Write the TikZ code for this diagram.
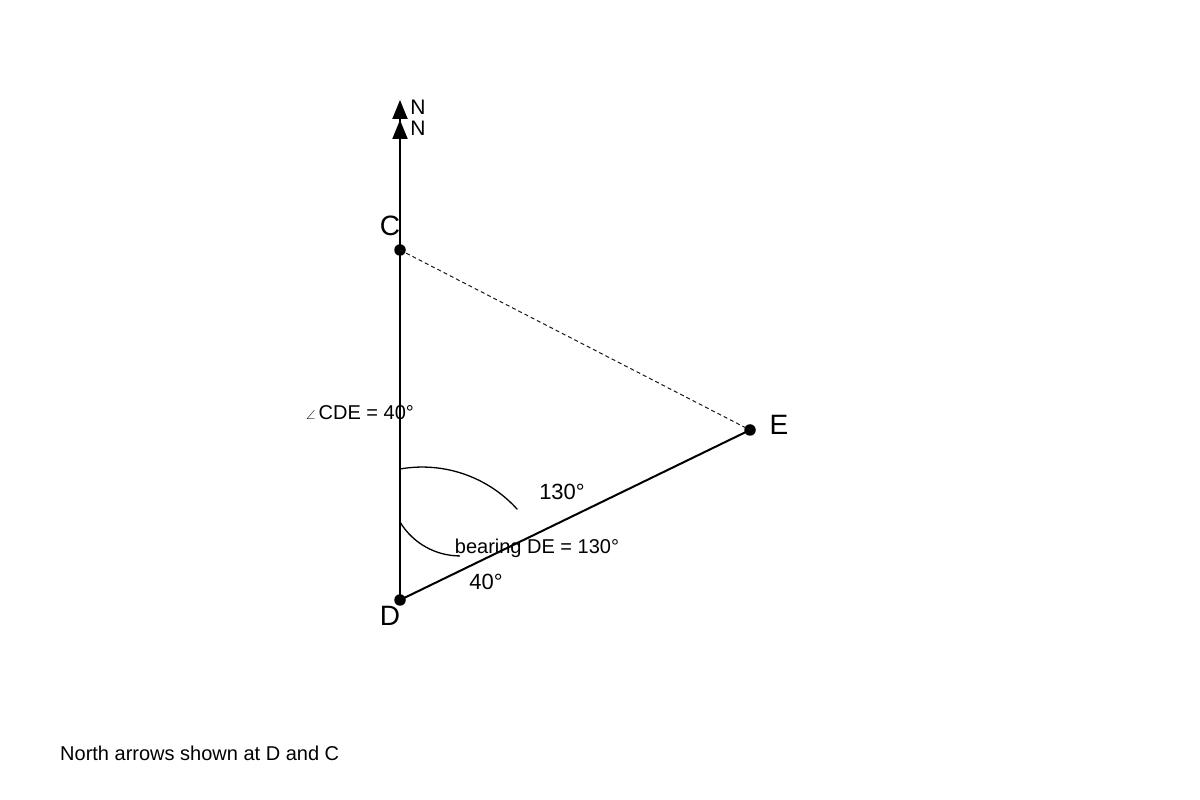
\documentclass[tikz,border=0pt]{standalone}
\usepackage{fontspec}
\setmainfont{Liberation Sans}
\usepackage{amsmath}
\usepackage{amssymb}
\usepackage{tikz}
\usetikzlibrary{arrows.meta}
\colorlet{markgray}{black!90}

\begin{document}
\begin{tikzpicture}[x=1pt, y=1pt,
        north/.style={line width=2pt, -{Triangle[length=19pt, width=15pt]}},
        side/.style={line width=2pt},
        pt/.style={circle, fill, inner sep=0pt, minimum size=11.5pt},
        vertex/.style={font=\fontsize{28}{32}\selectfont},
        lbl/.style={font=\fontsize{20}{24}\selectfont, inner sep=0pt},
        deg/.style={font=\fontsize{22}{26}\selectfont, inner sep=0pt}]
        \useasboundingbox (0, 0) rectangle (1200, 800);

        \node[pt] (D) at (400, 200) {};
        \node[pt] (C) at (400, 550) {};
        \node[pt] (E) at (750, 370) {};
        \coordinate (ND) at (400, 700);
        \coordinate (NC) at (400, 680);

        \draw[north] (D.center) -- (ND);
        \draw[north] (C.center) -- (NC);
        \draw[side] (D.center) -- (E.center);
        \draw[markgray, line width=1pt, dash pattern=on 4pt off 3pt] (C.center) -- (E.center);

        %%%

        \draw[line width=1.3pt] (400, 331) arc[start angle=100, end angle=42, radius=128];
        \draw[line width=1.3pt] (400, 278) arc[start angle=211, end angle=270, radius=70];

        %%%

        \node[vertex] (Clbl) at (390, 574) {C};
        \node[vertex] (Dlbl) at (390, 184) {D};
        \node[vertex] (Elbl) at (779, 375) {E};
        \node[lbl, font=\fontsize{21}{24}\selectfont] (N1) at (418, 693) {N};
        \node[lbl, font=\fontsize{21}{24}\selectfont] (N2) at (418, 672) {N};

        \node[lbl] (cde) at (360, 387) {{\fontsize{13}{13}\selectfont$\angle$}\,CDE = 40°};
        \node[deg] (big) at (562, 308) {130°};
        \node[lbl] (bearing) at (537, 252) {bearing DE = 130°};
        \node[deg] (small) at (486, 218) {40°};
        \node[lbl, anchor=west] (note) at (60, 47) {North arrows shown at D and C};
    \end{tikzpicture}
\end{document}
